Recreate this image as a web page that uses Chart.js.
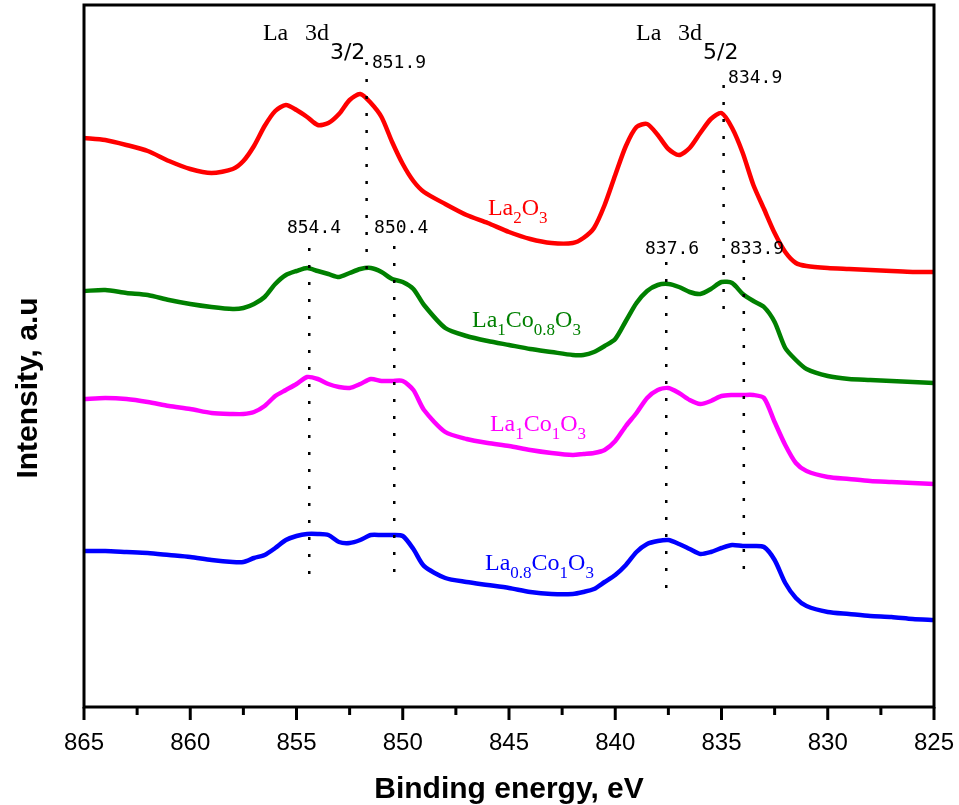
<!DOCTYPE html>
<html><head><meta charset="utf-8">
<script src="https://cdn.jsdelivr.net/npm/chart.js@4.4.1/dist/chart.umd.min.js"></script>
<style>html,body{margin:0;padding:0;background:#fff;} canvas{display:block;}</style>
</head><body>
<canvas id="c" width="959" height="805"></canvas>
<script>
// ---- data (binding energy in eV, intensity in a.u.) ----
const energy = [865,864,863,862,861,860,859,858,857.5,857,856.5,856,855.5,855,854.5,854,853.5,853,852.5,852,851.5,851,850.5,850,849.5,849,848,847,846,845,844,843,842,841.5,841,840.5,840,839.5,839,838.5,838,837.5,837,836.5,836,835.5,835,834.5,834,833.5,833,832.5,832,831.5,831,830,829,828,827,826,825];
const la2o3 = [569,567,562,556,546,538,534,538, 546,561,581,596,602,597,590,582,584,593,607,613,604,590,565,543,526,515, 503,492,484,475,468,464,464, 469,479,502,532,561,580,583,572,558,552,559,574,588,594,579,554,522,498,474,455,444,441, 439,438,437,436,435,435];
const la1co08o3 = [416,417,414,412,407,403,400,398, 399,403,410,423,432,436,439,436,433,430,434,438,439,435,428,425,418,402, 379,371,366,362,358,355,352, 352,355,361,368,386,404,416,422,423,420,415,413,418,425,424,413,406,400,385,359,347,338, 331,328,327,326,325,324];
const la1co1o3 = [308,309,308,305,301,298,294,293, 293,295,301,311,317,323,330,328,323,320,319,323,328,326,326,326,317,297, 275,268,264,261,257,254,252, 253,254,257,266,281,294,309,317,319,314,307,303,306,311,312,312,312,309,285,262,244,236, 230,228,226,225,224,223];
const la08co1o3 = [156,156,155,154,152,150,147,145, 145,149,152,159,167,171,173,173,172,165,164,167,172,172,172,171,158,141, 129,125,122,119,115,113,113, 115,118,125,132,142,155,163,166,167,163,158,153,155,159,162,161,161,160,147,124,109,101, 95,93,91,90,88,87];
const xTicks = [865,860,855,850,845,840,835,830,825];
// dotted peak markers: energy, top and bottom intensity
const refEnergy = [851.7, 854.4, 850.4, 834.9, 837.6, 833.95];
const refTop = [645, 459, 461, 622, 445, 447];
const refBottom = [432, 128, 131, 397, 113, 132];
const peakText = ['851.9','834.9','854.4','850.4','837.6','833.9'];
const seriesNames = ['La2O3','La1Co0.8O3','La1Co1O3','La0.8Co1O3'];

// ---- presentation ----
const colors = ['#ff0000','#008000','#ff00ff','#0000ff'];
const seriesLabelParts = [
  [['La',0],['2',1],['O',0],['3',1]],
  [['La',0],['1',1],['Co',0],['0.8',1],['O',0],['3',1]],
  [['La',0],['1',1],['Co',0],['1',1],['O',0],['3',1]],
  [['La',0],['0.8',1],['Co',0],['1',1],['O',0],['3',1]]
];
const seriesLabelPos = [[845.99,492],[846.74,380],[845.9,276],[846.13,137]];
const peakTextPos = [[851.45,639],[834.69,624],[855.45,474],[851.35,474],[838.6,453],[834.6,453]];
const titlePos = [[856.58,667,'3/2'],[839.02,667,'5/2']];

const seriesData = [la2o3, la1co08o3, la1co1o3, la08co1o3];
const datasets = [];
refEnergy.forEach((e,i)=>{
  datasets.push({label:'ref'+i, data:[{x:e,y:refTop[i]},{x:e,y:refBottom[i]}],
    borderColor:'#000', borderWidth:2.5, borderDash:[3,14], pointRadius:0, fill:false, tension:0});
});
seriesData.forEach((arr,i)=>{
  datasets.push({label:seriesNames[i], data:energy.map((e,k)=>({x:e,y:arr[k]})),
    borderColor:colors[i], borderWidth:4.5, pointRadius:0, fill:false, tension:0.25,
    borderCapStyle:'round', borderJoinStyle:'round'});
});

function drawParts(ctx, x, y, parts, color, mainFont, subFont, subDy){
  ctx.fillStyle = color;
  ctx.textAlign = 'left'; ctx.textBaseline = 'alphabetic';
  let cx = x;
  for (const [t,sub] of parts){
    ctx.font = sub ? subFont : mainFont;
    ctx.fillText(t, cx, sub ? y+subDy : y);
    cx += ctx.measureText(t).width;
  }
}

const framePlugin = {
  id:'frame',
  afterDraw(chart){
    const {ctx, chartArea:a} = chart;
    const xs = chart.scales.x, ys = chart.scales.y;
    ctx.save();
    ctx.strokeStyle = '#000'; ctx.lineWidth = 3; ctx.lineCap='butt';
    ctx.strokeRect(a.left, a.top, a.right-a.left, a.bottom-a.top);
    // major + minor ticks
    for (let i=0;i<xTicks.length;i++){
      const px = xs.getPixelForValue(xTicks[i]);
      ctx.beginPath(); ctx.moveTo(px,a.bottom); ctx.lineTo(px,a.bottom+13); ctx.stroke();
      if (i<xTicks.length-1){
        const pm = xs.getPixelForValue((xTicks[i]+xTicks[i+1])/2);
        ctx.beginPath(); ctx.moveTo(pm,a.bottom); ctx.lineTo(pm,a.bottom+8); ctx.stroke();
      }
    }
    ctx.fillStyle = '#000';
    ctx.font = '24px "Liberation Sans", Arial, sans-serif';
    ctx.textAlign = 'center'; ctx.textBaseline = 'alphabetic';
    xTicks.forEach(t=>ctx.fillText(String(t), xs.getPixelForValue(t), 750));
    ctx.font = 'bold 30px "Liberation Sans", Arial, sans-serif';
    ctx.fillText('Binding energy, eV', (a.left+a.right)/2, 798);
    ctx.save();
    ctx.translate(37, 388);
    ctx.rotate(-Math.PI/2);
    ctx.textBaseline = 'alphabetic';
    ctx.fillText('Intensity, a.u', 0, 0);
    ctx.restore();

    // peak region titles
    titlePos.forEach(([e,v,sub])=>{
      const px = xs.getPixelForValue(e), py = ys.getPixelForValue(v);
      ctx.fillStyle = '#000'; ctx.textAlign='left';
      ctx.font = '24px "Liberation Serif", "Times New Roman", serif';
      ctx.fillText('La', px, py);
      ctx.fillText('3d', px+42, py);
      const w = ctx.measureText('3d').width;
      ctx.font = '22px "DejaVu Sans", sans-serif';
      ctx.fillText(sub, px+42+w+1, py+19);
    });
    // peak energy labels
    ctx.font = '18px "DejaVu Sans Mono", monospace';
    peakText.forEach((t,i)=>{
      ctx.fillStyle='#000'; ctx.textAlign='left';
      ctx.fillText(t, xs.getPixelForValue(peakTextPos[i][0]), ys.getPixelForValue(peakTextPos[i][1]));
    });
    // series labels
    seriesLabelParts.forEach((parts,i)=>{
      drawParts(ctx, xs.getPixelForValue(seriesLabelPos[i][0]), ys.getPixelForValue(seriesLabelPos[i][1]),
        parts, colors[i], '24px "Liberation Serif", "Times New Roman", serif',
        '17px "Liberation Serif", "Times New Roman", serif', 8);
    });
    ctx.restore();
  }
};

new Chart(document.getElementById('c'), {
  type:'line',
  data:{datasets},
  options:{
    responsive:false, animation:false, devicePixelRatio:1,
    layout:{padding:{left:0,right:25,top:5,bottom:0}},
    plugins:{legend:{display:false}, tooltip:{enabled:false}},
    scales:{
      x:{type:'linear', reverse:true, min:825, max:865,
         ticks:{display:false, stepSize:5}, grid:{display:false, drawTicks:false}, border:{display:false},
         afterFit(s){ s.height = 98; }},
      y:{type:'linear', min:0, max:702,
         ticks:{display:false}, grid:{display:false, drawTicks:false}, border:{display:false},
         afterFit(s){ s.width = 84; }}
    }
  },
  plugins:[framePlugin]
});
</script>
</body></html>
